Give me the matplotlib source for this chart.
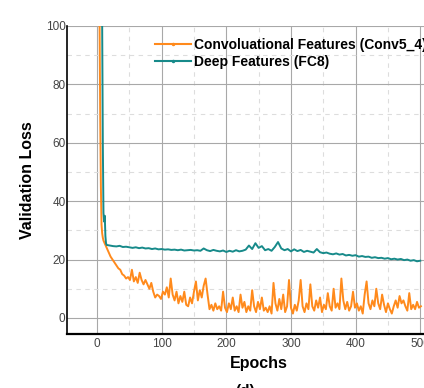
import matplotlib
matplotlib.use("Agg")
import matplotlib.pyplot as plt
from matplotlib.lines import Line2D

plt.rcParams["font.family"] = ["Liberation Sans", "DejaVu Sans"]

# orange curve: convolutional features
conv_epochs = list(range(0, 15)) + list(range(15, 502, 3))
conv_loss = [140, 130, 120, 110, 100, 68, 45, 32, 29, 27.5, 26.5, 26, 25.5, 25, 24.5,
             24, 22.5, 21, 20, 19, 18, 17, 16.5, 15, 14.5, 13.5, 14, 13, 16.5, 12.5, 14,
             12, 15.5, 13, 11.5, 13, 11.5, 10, 12, 9, 7, 8, 7.5, 6.5, 9, 8, 10.5,
             7, 13.5, 8, 6, 9, 5, 7.5, 5.5, 9, 4.5, 4, 7, 5, 9, 12.5, 6,
             9.5, 7, 11, 13.5, 8, 3, 4.5, 2.5, 5, 3, 4, 2.5, 9, 3.5, 2, 5,
             3, 7, 2.5, 4, 2, 8, 3.5, 5.5, 2, 4, 2.5, 9.5, 4, 2, 5.5, 3,
             7, 2.5, 3.5, 2, 4, 1.5, 12, 5, 2.5, 6.5, 3, 8, 2, 4, 13, 3.5,
             1.5, 4.5, 2.5, 6, 13, 4, 2, 5, 3, 11.5, 4, 2.5, 6, 3.5, 7, 2,
             4.5, 3, 8.5, 4, 2.5, 10, 3.5, 5, 3, 13.5, 6, 3, 5.5, 2.5, 4, 9,
             3.5, 5, 2.5, 4, 1.5, 8, 12.5, 5, 3, 6, 4, 10, 5, 3, 8, 4.5,
             2, 5, 3, 1.5, 4, 6, 3.5, 7.5, 5, 6, 4, 2.5, 8.5, 3, 4.5, 3,
             5.5, 3.5, 4]

# teal curve: deep features
fc8_epochs = [0, 2, 4, 6, 8, 9, 10, 11, 12, 13, 14] + list(range(15, 501, 5))
fc8_loss = [140, 130, 120, 110, 100, 60, 36, 33, 35, 28, 25.5,
            25, 24.8, 24.6, 24.5, 24.7, 24.3, 24.4, 24.2, 24.0, 24.2, 23.9, 24.1,
            23.8, 23.9, 23.6, 23.8, 23.5, 23.6, 23.4, 23.5, 23.3, 23.4, 23.2, 23.4,
            23.1, 23.2, 23.3, 23.1, 23.2, 23.0, 23.8, 23.2, 22.9, 23.3, 23.0, 22.8,
            23.1, 22.6, 23.0, 22.7, 23.2, 22.8, 23.0, 23.4, 24.8, 23.6, 25.6, 24.0,
            24.6, 23.2, 23.6, 23.0, 24.3, 26.0, 23.8, 23.2, 23.6, 22.8, 23.5, 22.9,
            23.3, 22.6, 23.0, 22.7, 22.4, 23.6, 22.5, 22.2, 22.4, 22.0, 21.8, 22.1,
            21.7, 21.9, 21.4, 21.6, 21.3, 21.5, 21.0, 21.2, 20.9, 21.0, 20.6, 20.8,
            20.5, 20.6, 20.3, 20.5, 20.1, 20.3, 20.0, 20.2, 19.8, 20.0, 19.6, 19.8,
            19.4, 19.6]

labels = ["Convoluational Features (Conv5_4)", "Deep Features (FC8)"]
orange = "#ff8a1c"
teal = "#178a8a"

fig = plt.figure(figsize=(4.24, 3.88), dpi=100)
ax = fig.add_axes([67 / 424, 54 / 388, 383 / 424, 308 / 388])

ax.plot(conv_epochs, conv_loss, color=orange, lw=1.4, zorder=3)
ax.plot(fc8_epochs, fc8_loss, color=teal, lw=1.4, zorder=4)

ax.set_xlim(-46.4, 546)
ax.set_ylim(-5.5, 100)
ax.set_xticks(range(0, 501, 100))
ax.set_yticks(range(0, 101, 20))
ax.set_xticks(range(50, 501, 100), minor=True)
ax.set_yticks(range(10, 100, 20), minor=True)
ax.grid(which="major", color="#a8a8a8", lw=0.8)
ax.grid(which="minor", color="#dddddd", lw=0.8, ls=(0, (4, 4)))
ax.set_axisbelow(True)

for s in ["top", "right"]:
    ax.spines[s].set_visible(False)
ax.spines["left"].set_linewidth(1.2)
ax.spines["bottom"].set_linewidth(1.6)
ax.tick_params(which="both", length=0, labelsize=8.5, labelcolor="#444444")
ax.tick_params(axis="y", pad=1)
ax.tick_params(axis="x", pad=3)

ax.set_xlabel("Epochs", fontsize=11.5, fontweight="bold", labelpad=4)
ax.set_ylabel("Validation Loss", fontsize=11.5, fontweight="bold", labelpad=8)
fig.text(245 / 424, -3 / 388, "(d)", fontsize=11, fontweight="bold", ha="center", va="center")

handles = [Line2D([], [], color=orange, lw=1.5, marker=".", markersize=3),
           Line2D([], [], color=teal, lw=1.5, marker=".", markersize=3)]
ax.legend(handles, labels, loc="upper left", bbox_to_anchor=(155 / 424, 1 - 38 / 388),
          bbox_transform=fig.transFigure, frameon=False, borderaxespad=0, borderpad=0,
          handlelength=2.6, handletextpad=0.2, labelspacing=0.2,
          prop={"weight": "bold", "size": 10})

fig.savefig("out.png", dpi=100)
